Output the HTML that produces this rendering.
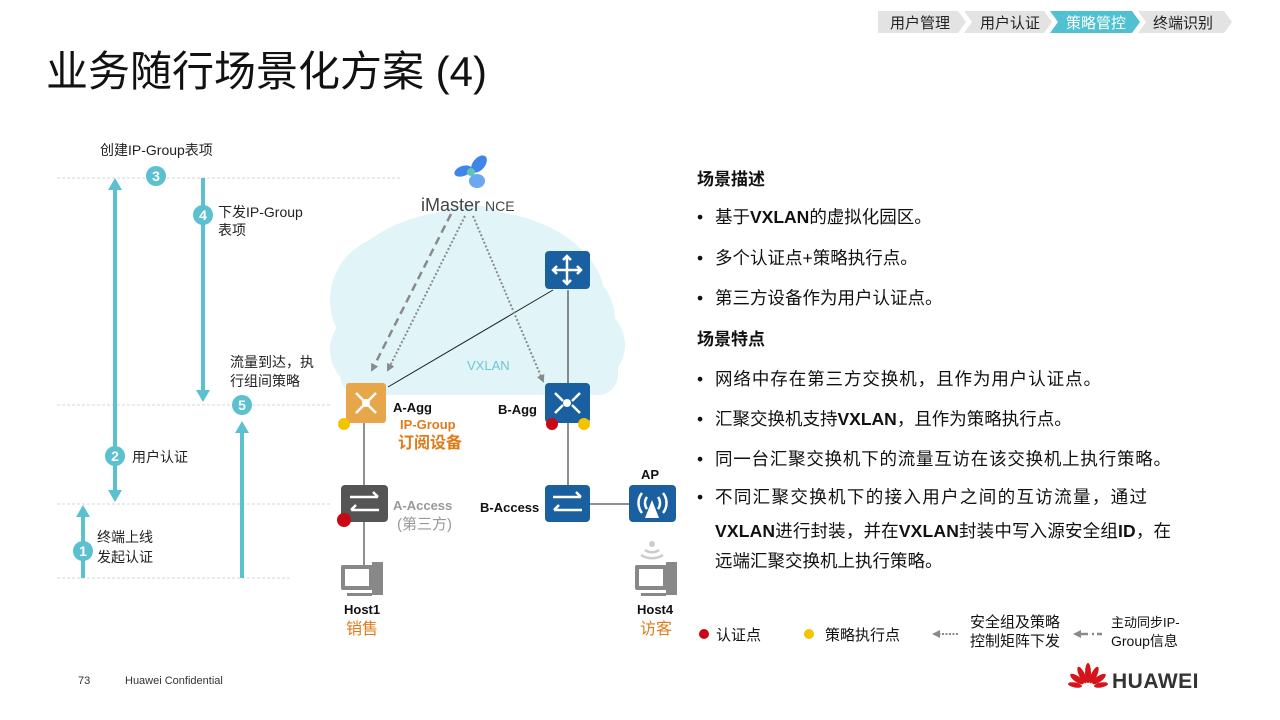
<!DOCTYPE html>
<html><head><meta charset="utf-8"><style>
html,body{margin:0;padding:0;background:#fff}
svg{display:block}
text{font-family:"Liberation Sans","Noto Sans CJK SC",sans-serif}
</style></head><body>
<svg width="1280" height="720" viewBox="0 0 1280 720" xmlns="http://www.w3.org/2000/svg">
<defs>
<marker id="ag" markerWidth="8" markerHeight="8" refX="6" refY="4" orient="auto" markerUnits="userSpaceOnUse"><path d="M0,0 L8,4 L0,8 z" fill="#8a8a8a"/></marker>
</defs>
<!-- breadcrumb -->
<polygon points="878,11 958,11 966,22 958,33 878,33" fill="#e3e3e3"/>
<polygon points="964,11 1044,11 1052,22 1044,33 964,33 972,22" fill="#e3e3e3"/>
<polygon points="1050,11 1132,11 1140,22 1132,33 1050,33 1058,22" fill="#4fc1d0"/>
<polygon points="1138,11 1224,11 1232,22 1224,33 1138,33 1146,22" fill="#e3e3e3"/>
<g font-size="15" fill="#222">
<text x="890" y="28">用户管理</text><text x="980" y="28">用户认证</text>
<text x="1066" y="28" fill="#fff">策略管控</text><text x="1153" y="28">终端识别</text>
</g>
<text x="46" y="86" font-size="42" fill="#111">业务随行场景化方案 (4)</text>

<!-- left timeline -->
<g stroke="#d4d4d4" stroke-dasharray="3,2" stroke-width="1">
<line x1="57" y1="178" x2="400" y2="178"/><line x1="57" y1="405" x2="330" y2="405"/>
<line x1="57" y1="504" x2="330" y2="504"/><line x1="57" y1="578" x2="290" y2="578"/>
</g>
<g stroke="#5bc0d0" stroke-width="4" fill="#5bc0d0">
<line x1="115" y1="190" x2="115" y2="490"/>
<polygon points="108,190 122,190 115,178" stroke="none"/>
<polygon points="108,490 122,490 115,502" stroke="none"/>
<line x1="83" y1="578" x2="83" y2="517"/>
<polygon points="76,517 90,517 83,505" stroke="none"/>
<line x1="203" y1="178" x2="203" y2="390"/>
<polygon points="196,390 210,390 203,402" stroke="none"/>
<line x1="242" y1="578" x2="242" y2="433"/>
<polygon points="235,433 249,433 242,421" stroke="none"/>
</g>
<g fill="#5bc0d0">
<circle cx="156" cy="176" r="10"/><circle cx="203" cy="215" r="10"/><circle cx="115" cy="456" r="10"/>
<circle cx="83" cy="551" r="10"/><circle cx="242" cy="405" r="10"/>
</g>
<g fill="#fff" font-size="14" font-weight="bold" text-anchor="middle">
<text x="156" y="181">3</text><text x="203" y="220">4</text><text x="115" y="461">2</text>
<text x="83" y="556">1</text><text x="242" y="410">5</text>
</g>
<g font-size="14" fill="#222">
<text x="100" y="155">创建IP-Group表项</text>
<text x="218" y="217">下发IP-Group</text><text x="218" y="235">表项</text>
<text x="230" y="367">流量到达，执</text><text x="230" y="386">行组间策略</text>
<text x="132" y="462">用户认证</text>
<text x="97" y="542">终端上线</text><text x="97" y="562">发起认证</text>
</g>

<!-- cloud -->
<g fill="#e1f4f7">
<ellipse cx="470" cy="300" rx="135" ry="90"/>
<circle cx="395" cy="300" r="65"/><circle cx="560" cy="320" r="55"/>
<circle cx="470" cy="270" r="65"/><circle cx="370" cy="350" r="40"/><circle cx="585" cy="345" r="40"/>
<rect x="340" y="330" width="278" height="65" rx="20"/>
</g>
<text x="467" y="370" font-size="13" fill="#6cc8d4">VXLAN</text>

<!-- NCE -->
<ellipse cx="479" cy="164" rx="6" ry="10" fill="#3f86e8" transform="rotate(40 479 164)"/>
<ellipse cx="463" cy="171" rx="9" ry="5" fill="#3f86e8" transform="rotate(-20 463 171)"/>
<ellipse cx="477" cy="181" rx="8" ry="7" fill="#6aa9f0"/>
<circle cx="471" cy="172" r="4" fill="#5fc3b8"/>
<text x="421" y="211" font-size="18" fill="#444">iMaster <tspan font-size="14">NCE</tspan></text>

<!-- lines -->
<g stroke="#222" stroke-width="1">
<line x1="553" y1="290" x2="388" y2="387"/>
<line x1="568" y1="290" x2="568" y2="384"/>
<line x1="568" y1="422" x2="568" y2="486"/>
<line x1="364" y1="422" x2="364" y2="486"/>
<line x1="364" y1="522" x2="364" y2="570"/>
<line x1="588" y1="504" x2="630" y2="504"/>
</g>
<g stroke="#8a8a8a" stroke-width="2.5" fill="none">
<line x1="451" y1="214" x2="372" y2="370" stroke-dasharray="8,5" marker-end="url(#ag)"/>
<line x1="465" y1="216" x2="388" y2="370" stroke-dasharray="2,2" stroke-width="2" marker-end="url(#ag)"/>
<line x1="473" y1="216" x2="543" y2="381" stroke-dasharray="2,2" stroke-width="2" marker-end="url(#ag)"/>
</g>

<!-- devices -->
<rect x="346" y="383" width="40" height="40" rx="3" fill="#e8a64a"/>
<rect x="545" y="251" width="45" height="38" rx="4" fill="#1a5fa0"/>
<rect x="545" y="383" width="45" height="40" rx="4" fill="#1a5fa0"/>
<rect x="341" y="485" width="47" height="37" rx="4" fill="#555"/>
<rect x="545" y="485" width="45" height="37" rx="4" fill="#1a5fa0"/>
<rect x="629" y="485" width="47" height="37" rx="4" fill="#1a5fa0"/>
<g stroke="#fff" stroke-width="2.5" fill="none">
<path d="M356 393l8 8M376 393l-8 8M356 413l8-8M376 413l-8-8"/>
<path d="M555 393l8 8M580 393l-8 8M555 413l8-8M580 413l-8-8"/>
<path d="M567 256v28M553 270h28M563 260l4-4 4 4M563 280l4 4 4-4M557 266l-4 4 4 4M577 266l4 4-4 4"/>
<path d="M350 497h28m-5-5l5 5M379 510h-28m5-5l-5 5"/>
<path d="M553 497h28m-5-5l5 5M582 510h-28m5-5l-5 5"/>
<path d="M647 497a10 10 0 0 0 0 12M658 497a10 10 0 0 1 0 12M642 493a16 16 0 0 0 0 20M663 493a16 16 0 0 1 0 20"/>
</g>
<circle cx="366" cy="403" r="4" fill="#fff"/><circle cx="567" cy="403" r="4" fill="#fff"/>
<polygon points="652,500 645,518 659,518" fill="#fff"/>

<!-- hosts -->
<g fill="#888">
<rect x="341" y="565" width="32" height="25" rx="2"/><rect x="372" y="562" width="11" height="33"/>
<rect x="347" y="593" width="25" height="3"/>
<rect x="635" y="565" width="32" height="25" rx="2"/><rect x="666" y="562" width="11" height="33"/>
<rect x="641" y="593" width="25" height="3"/>
</g>
<rect x="345" y="569" width="24" height="17" fill="#fff"/><rect x="639" y="569" width="24" height="17" fill="#fff"/>
<g stroke="#ccc" stroke-width="2.5" fill="none">
<path d="M645 550a10 8 0 0 0 14 0M641 555a15 10 0 0 0 22 0"/>
</g>
<circle cx="652" cy="544" r="3" fill="#ccc"/>

<!-- dots -->
<circle cx="344" cy="424" r="6" fill="#f5c400"/>
<circle cx="552" cy="424" r="6" fill="#c80815"/>
<circle cx="584" cy="424" r="6" fill="#f5c400"/>
<circle cx="344" cy="520" r="7" fill="#c80815"/>

<!-- device labels -->
<g font-size="13" font-weight="bold" fill="#111">
<text x="393" y="412">A-Agg</text><text x="498" y="414">B-Agg</text>
<text x="480" y="512">B-Access</text><text x="641" y="479">AP</text>
<text x="344" y="614">Host1</text><text x="637" y="614">Host4</text>
</g>
<text x="400" y="429" font-size="13" font-weight="bold" fill="#e07b1a">IP-Group</text>
<text x="398" y="448" font-size="16" font-weight="bold" fill="#e07b1a">订阅设备</text>
<text x="393" y="510" font-size="13" font-weight="bold" fill="#999">A-Access</text>
<text x="397" y="529" font-size="15" fill="#999">(第三方)</text>
<text x="346" y="634" font-size="16" fill="#e07b1a">销售</text>
<text x="640" y="634" font-size="16" fill="#e07b1a">访客</text>

<!-- right text -->
<g font-size="17" fill="#111">
<text x="697" y="185" font-weight="bold">场景描述</text>
<text x="697" y="345" font-weight="bold">场景特点</text>
</g>
<g font-size="17.5" fill="#111">
<text x="697" y="223">•</text><text x="715" y="223">基于<tspan font-weight="bold">VXLAN</tspan>的虚拟化园区。</text>
<text x="697" y="264">•</text><text x="715" y="264">多个认证点+策略执行点。</text>
<text x="697" y="304">•</text><text x="715" y="304">第三方设备作为用户认证点。</text>
<text x="697" y="385">•</text><text x="715" y="385" textLength="386">网络中存在第三方交换机，且作为用户认证点。</text>
<text x="697" y="425">•</text><text x="715" y="425">汇聚交换机支持<tspan font-weight="bold">VXLAN</tspan>，且作为策略执行点。</text>
<text x="697" y="465">•</text><text x="715" y="465" textLength="456">同一台汇聚交换机下的流量互访在该交换机上执行策略。</text>
<text x="697" y="503">•</text><text x="715" y="503" textLength="432">不同汇聚交换机下的接入用户之间的互访流量，通过</text>
<text x="715" y="537" textLength="456"><tspan font-weight="bold">VXLAN</tspan>进行封装，并在<tspan font-weight="bold">VXLAN</tspan>封装中写入源安全组<tspan font-weight="bold">ID</tspan>，在</text>
<text x="715" y="567">远端汇聚交换机上执行策略。</text>
</g>

<!-- legend -->
<circle cx="704" cy="634" r="5" fill="#c80815"/>
<circle cx="809" cy="634" r="5" fill="#f5c400"/>
<g font-size="15" fill="#111">
<text x="716" y="640">认证点</text><text x="825" y="640">策略执行点</text>
<text x="970" y="627">安全组及策略</text><text x="970" y="646">控制矩阵下发</text>
<text x="1111" y="627" font-size="13">主动同步IP-</text><text x="1111" y="646" font-size="14">Group信息</text>
</g>
<line x1="958" y1="634" x2="940" y2="634" stroke="#8a8a8a" stroke-width="2" stroke-dasharray="2,1.5"/>
<polygon points="932,634 940,630 940,638" fill="#8a8a8a"/>
<line x1="1102" y1="634" x2="1092" y2="634" stroke="#8a8a8a" stroke-width="2.5" stroke-dasharray="5,3"/>
<line x1="1088" y1="634" x2="1080" y2="634" stroke="#8a8a8a" stroke-width="2.5"/>
<polygon points="1073,634 1081,630 1081,638" fill="#8a8a8a"/>

<!-- footer -->
<text x="78" y="684" font-size="11" fill="#333">73</text>
<text x="125" y="684" font-size="11" fill="#333">Huawei Confidential</text>
<g fill="#d6141c" transform="translate(1088,685)">
<ellipse cx="0" cy="-12" rx="3" ry="10"/>
<ellipse cx="-6" cy="-10" rx="3" ry="9" transform="rotate(-25 -6 -10)"/>
<ellipse cx="6" cy="-10" rx="3" ry="9" transform="rotate(25 6 -10)"/>
<ellipse cx="-11" cy="-6" rx="3" ry="8" transform="rotate(-55 -11 -6)"/>
<ellipse cx="11" cy="-6" rx="3" ry="8" transform="rotate(55 11 -6)"/>
<ellipse cx="-13" cy="0" rx="2.5" ry="7" transform="rotate(-80 -13 0)"/>
<ellipse cx="13" cy="0" rx="2.5" ry="7" transform="rotate(80 13 0)"/>
</g>
<text x="1112" y="688" font-size="21" font-weight="bold" fill="#333" letter-spacing="0.5">HUAWEI</text>
</svg>
</body></html>
